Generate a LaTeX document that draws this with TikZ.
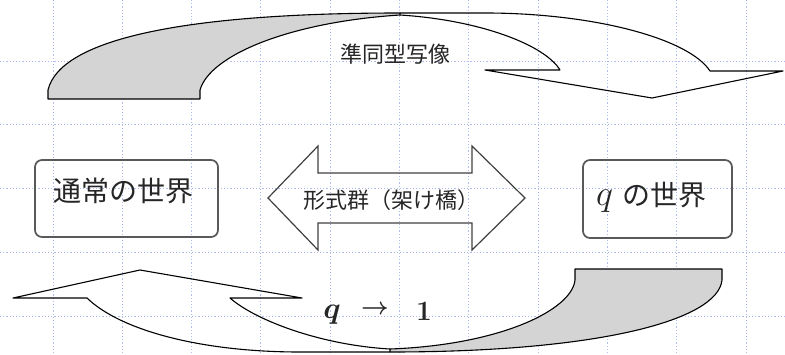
\RequirePackage{fix-cm}
\documentclass[tikz,border=0pt]{standalone}
\usepackage{fontspec}
\newfontfamily\jp{Noto Sans CJK JP}
\definecolor{gridblue}{RGB}{175,188,238}
\definecolor{backgray}{RGB}{212,212,212}
\tikzset{
  gridline/.style={draw=gridblue, line width=0.9pt, dash pattern=on 1.2pt off 2pt},
  band/.style={draw=black, line width=1.1pt, line join=round},
  backside/.style={band, fill=backgray},
  boxframe/.style={draw=black!65, line width=1.7pt, rounded corners=7pt, inner sep=0pt},
  jplabel/.style={font=\jp\fontsize{#1}{#1}\selectfont, inner sep=0pt, text=black!85},
  mathlabel/.style={font=\fontsize{#1}{#1}\selectfont\boldmath, inner sep=0pt, text=black!85},
  bridge/.style={draw=black!75, line width=1.2pt, line join=miter},
}
\begin{document}
\begin{tikzpicture}[x=1pt, y=-1pt]
\useasboundingbox (0,0) rectangle (785,354);
% background grid
\foreach \k in {0,...,10} {\draw[gridline] ({53+69.3*\k},0) -- ({53+69.3*\k},354);}
\foreach \k in {0,...,4} {\draw[gridline] (0,{61+63.75*\k}) -- (785,{61+63.75*\k});}

% top curved arrow: back side (gray)
\draw[backside] (48,99) -- (48,90) .. controls (60,40) and (180,13) .. (400,13)
  -- (400,15) .. controls (290,22) and (210,55) .. (200,90) -- (200,99) -- cycle;
% top curved arrow: front side
\draw[band] (400,13) -- (490,13) .. controls (600,14) and (690,40) .. (710,71)
  -- (783,71) -- (652,98) -- (485,70) -- (560,70)
  .. controls (545,45) and (480,20) .. (400,15);

% bottom curved arrow: back side (gray)
\draw[backside] (722,269) -- (722,280) .. controls (718,320) and (600,352) .. (390,352)
  -- (390,349) .. controls (500,345) and (572,310) .. (575,280) -- (575,269) -- cycle;
% bottom curved arrow: front side
\draw[band] (390,349) .. controls (320,345) and (255,320) .. (230,298)
  -- (302,298) -- (140,270) -- (13,298) -- (87,298)
  .. controls (120,330) and (200,352) .. (300,352) -- (390,352);

% double arrow (bridge)
\draw[bridge] (268,198) -- (318,146) -- (318,173) -- (472,173) -- (472,146)
  -- (525,198) -- (472,250) -- (472,223) -- (318,223) -- (318,250) -- cycle;

% boxes
\node[boxframe, minimum width=183pt, minimum height=77pt] (ordinary) at (126.5,198.5) {};
\node[boxframe, minimum width=149pt, minimum height=78pt] (qworld) at (657.5,199) {};

% labels
\node[jplabel=28] (ordinarytext) at (123,191) {通常の世界};
\node[jplabel=28, anchor=base west] (qworldtext) at (596,205)
  {{\fontsize{36}{36}\selectfont$q$}\hspace{9pt}の世界};
\node[jplabel=22] (bridgetext) at (391,200) {形式群（架け橋）};
\node[jplabel=22] (homtext) at (395,54) {準同型写像};
\node[mathlabel=30] (qsym) at (332,315) {$q$};
\node[mathlabel=24] (arrowsym) at (375,310) {$\rightarrow$};
\node[mathlabel=28] (onesym) at (424,311) {$1$};
\end{tikzpicture}
\end{document}
